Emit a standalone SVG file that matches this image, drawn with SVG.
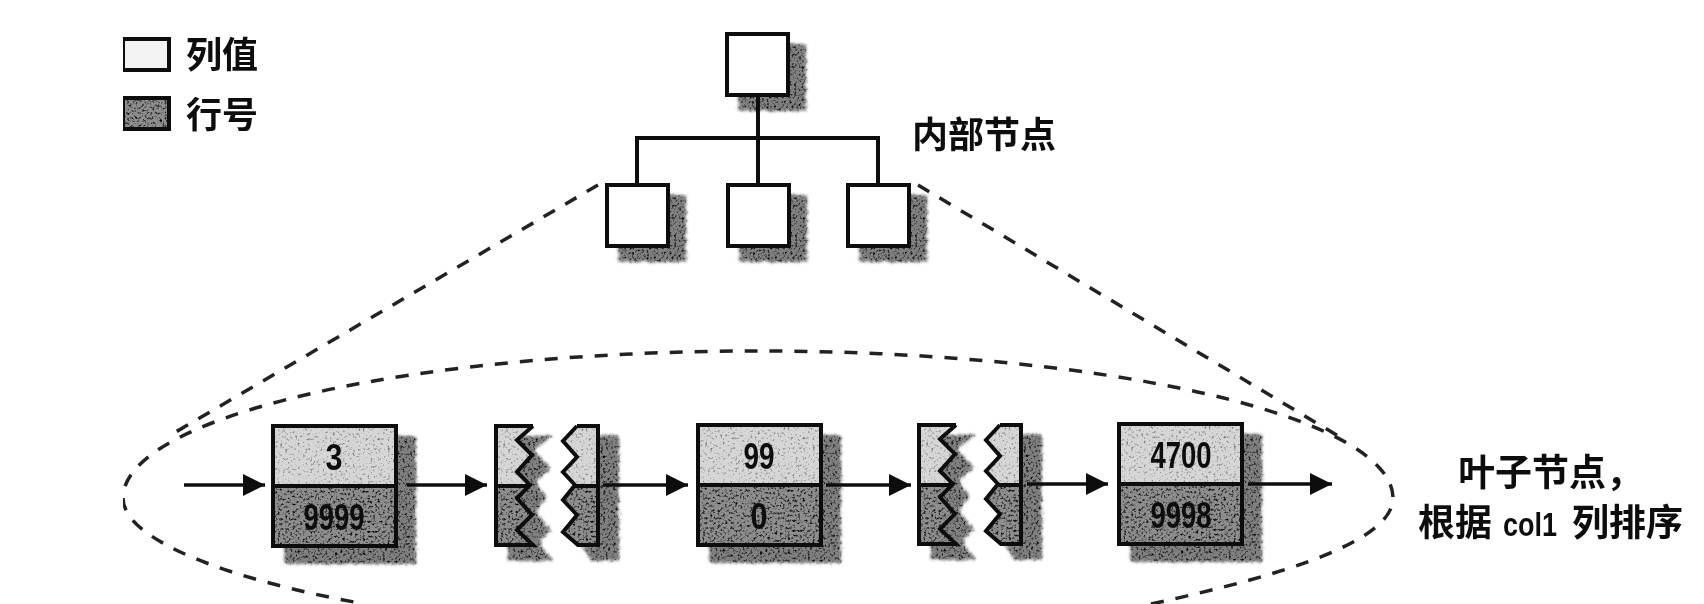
<svg xmlns="http://www.w3.org/2000/svg" width="1704" height="604" viewBox="0 0 1704 604">
<style>
.box{fill:#fff;stroke:#111;stroke-width:4}
.shadow{fill:#808080;filter:url(#fuzz)}
.light{fill:#d6d6d6;stroke:none;filter:url(#grainL)}
.dark{fill:#8e8e8e;stroke:none;filter:url(#grainD)}
.edge{fill:none;stroke:#111;stroke-width:4;stroke-linejoin:miter}
.link{fill:none;stroke:#111;stroke-width:4}
.dash{fill:none;stroke:#222;stroke-width:3.5;stroke-dasharray:13 12}
.arrow{fill:none;stroke:#111;stroke-width:3.5;marker-end:url(#head)}
.label{font-family:"Noto Sans CJK SC","Noto Sans",sans-serif;font-size:36px;font-weight:700;fill:#111}
.wide{font-size:37px}
.latin{font-family:"Liberation Sans Narrow","Liberation Sans",sans-serif;font-size:34px;font-weight:700}
.num{font-family:"Liberation Sans Narrow","Liberation Sans",sans-serif;font-size:37px;font-weight:700;fill:#111;text-anchor:middle}
</style>
<defs>
<marker id="head" markerUnits="userSpaceOnUse" markerWidth="24" markerHeight="22" refX="22" refY="11" orient="auto">
<path d="M0 0L22 11L0 22Z" fill="#111"/>
</marker>
<filter id="grainL" x="-5%" y="-5%" width="110%" height="110%" color-interpolation-filters="sRGB">
<feTurbulence type="fractalNoise" baseFrequency="0.4" numOctaves="2" seed="4" result="n"/>
<feColorMatrix in="n" type="matrix" values="1.6 0 0 0 0.3 1.6 0 0 0 0.3 1.6 0 0 0 0.3 0 0 0 0 1" result="g"/>
<feComposite in="SourceGraphic" in2="g" operator="arithmetic" k1="1" result="m"/>
<feComposite in="m" in2="SourceAlpha" operator="in"/>
</filter>
<filter id="grainD" x="-5%" y="-5%" width="110%" height="110%" color-interpolation-filters="sRGB">
<feTurbulence type="fractalNoise" baseFrequency="0.4" numOctaves="2" seed="11" result="n"/>
<feColorMatrix in="n" type="matrix" values="3 0 0 0 -0.5 3 0 0 0 -0.5 3 0 0 0 -0.5 0 0 0 0 1" result="g"/>
<feComposite in="SourceGraphic" in2="g" operator="arithmetic" k1="1" result="m"/>
<feComposite in="m" in2="SourceAlpha" operator="in"/>
</filter>
<filter id="fuzz" x="-20%" y="-20%" width="140%" height="140%" color-interpolation-filters="sRGB">
<feTurbulence type="fractalNoise" baseFrequency="0.4" numOctaves="2" seed="9" result="n"/>
<feDisplacementMap in="SourceGraphic" in2="n" scale="8" xChannelSelector="R" yChannelSelector="G" result="d"/>
<feGaussianBlur in="d" stdDeviation="1.8" result="b"/>
<feColorMatrix in="n" type="matrix" values="3 0 0 0 -0.5 3 0 0 0 -0.5 3 0 0 0 -0.5 0 0 0 0 1" result="g"/>
<feComposite in="b" in2="g" operator="arithmetic" k1="1" result="m"/>
<feComposite in="m" in2="b" operator="in"/>
</filter>
<filter id="soft" x="0" y="0" width="100%" height="100%"><feGaussianBlur stdDeviation="0.7"/></filter>
<g id="tree-box">
<rect class="shadow" x="10" y="9" width="70" height="69"/>
<rect class="box" x="0" y="0" width="61" height="61"/>
</g>
<g id="leaf-box">
<rect class="shadow" x="10" y="9" width="134" height="130"/>
<rect class="light" x="0" y="0" width="123" height="60"/>
<rect class="dark" x="0" y="60" width="123" height="60"/>
<path class="edge" d="M0 0H123V120H0ZM0 60H123"/>
</g>
<g id="broken-box">
<path class="shadow" d="M36 9H59L39 24L56 42L41 57L52 71L41 86L56 104L44 117L59 136H11V9Z"/>
<path class="shadow" d="M100 8H124V136H95L84 119H100Z"/>
<path class="light" d="M0 0H37L21 14L36 29L21 46L34 60H0Z"/>
<path class="dark" d="M0 60H34L21 72L36 89L21 104L37 119H0Z"/>
<path class="light" d="M102 0H81L67 15L81 31L67 46L79 60H102Z"/>
<path class="dark" d="M102 60H79L67 74L81 89L67 106L82 119H102Z"/>
<path class="edge" d="M37 0H0V119H37L21 104L36 89L21 72L34 59L21 46L36 29L21 14L37 0"/>
<path class="edge" d="M81 0H102V119H82L67 106L81 89L67 74L79 59L67 46L81 31L67 15L81 0"/>
<path class="edge" d="M0 60H34M79 60H102"/>
</g>
</defs>
<rect width="1704" height="604" fill="#fff"/>
<g filter="url(#soft)">
<g id="legend-value">
<rect x="123" y="39" width="46" height="31" fill="#f3f3f3" stroke="#111" stroke-width="4"/>
<text class="label" x="186" y="68">列值</text>
</g>
<g id="legend-row">
<rect class="dark" x="123" y="98" width="46" height="31"/>
<rect x="123" y="98" width="46" height="31" fill="none" stroke="#111" stroke-width="4"/>
<text class="label" x="186" y="128">行号</text>
</g>
<g id="tree-root"><use href="#tree-box" x="727" y="34"/></g>
<g id="tree-child-1"><use href="#tree-box" x="607" y="185"/></g>
<g id="tree-child-2"><use href="#tree-box" x="728" y="185"/></g>
<g id="tree-child-3"><use href="#tree-box" x="848" y="185"/></g>
<g id="internal-label"><text class="label" x="912" y="148">内部节点</text></g>
<g id="leaf-1">
<use href="#leaf-box" x="273" y="426"/>
<text class="num" x="334" y="470" textLength="17" lengthAdjust="spacingAndGlyphs">3</text>
<text class="num" x="334" y="530" textLength="61" lengthAdjust="spacingAndGlyphs">9999</text>
</g>
<g id="leaf-break-1"><use href="#broken-box" x="496" y="426"/></g>
<g id="leaf-2">
<use href="#leaf-box" x="698" y="425"/>
<text class="num" x="759" y="469" textLength="31" lengthAdjust="spacingAndGlyphs">99</text>
<text class="num" x="759" y="529" textLength="17" lengthAdjust="spacingAndGlyphs">0</text>
</g>
<g id="leaf-break-2"><use href="#broken-box" x="919" y="425"/></g>
<g id="leaf-3">
<use href="#leaf-box" x="1119" y="424"/>
<text class="num" x="1181" y="468" textLength="61" lengthAdjust="spacingAndGlyphs">4700</text>
<text class="num" x="1181" y="528" textLength="61" lengthAdjust="spacingAndGlyphs">9998</text>
</g>
<g id="leaf-label">
<text class="label wide" x="1458" y="486">叶子节点，</text>
<text class="label wide" x="1418" y="536">根据</text>
<text class="label latin" x="1503" y="536" textLength="54" lengthAdjust="spacingAndGlyphs">col1</text>
<text class="label wide" x="1572" y="536">列排序</text>
</g>
<g id="connectors">
<path class="link" d="M758 95V185M637 185V138H878V185"/>
<path class="dash" d="M598 185L174 433"/>
<path class="dash" d="M918 185L1345 440"/>
<path class="dash" d="M1151 604C1290 574 1393 540 1393 498A635 147 0 0 0 123 498C123 540 230 580 365 604"/>
<path class="arrow" d="M184 485H265"/>
<path class="arrow" d="M407 485H487"/>
<path class="arrow" d="M603 485H688"/>
<path class="arrow" d="M826 485H911"/>
<path class="arrow" d="M1027 484H1108"/>
<path class="arrow" d="M1248 484H1332"/>
</g>
</g>
</svg>
